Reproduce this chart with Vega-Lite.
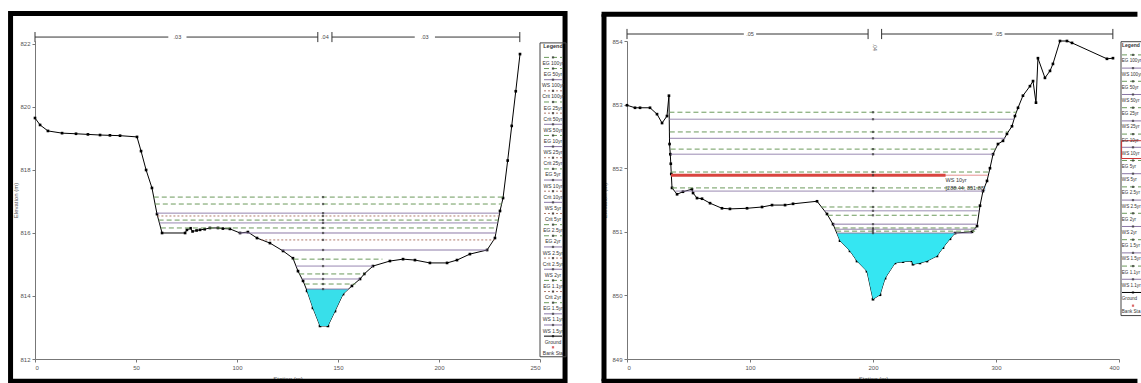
{
"$schema":"https://vega.github.io/schema/vega-lite/v6.json",
"background":"white",
"padding":{"left":8,"top":10,"right":0,"bottom":0},
"config":{"font":"Liberation Sans","view":{"stroke":null},
"axis":{"grid":false,"labelFontSize":6,"titleFontSize":6,"labelColor":"#555","titleColor":"#555","domainColor":"#777","tickColor":"#777","tickSize":3,"titleFontWeight":"normal","labelPadding":2}},
"datasets":{
"lg":[{"s":0,"e":819.65},{"s":2.5,"e":819.43},{"s":6.4,"e":819.24},{"s":13.4,"e":819.17},{"s":20.3,"e":819.15},{"s":26.2,"e":819.13},{"s":32.2,"e":819.11},{"s":37.1,"e":819.1},{"s":42.1,"e":819.09},{"s":50.5,"e":819.05},{"s":52.5,"e":818.6},{"s":55,"e":818.0},{"s":57.9,"e":817.43},{"s":60.4,"e":816.6},{"s":62.9,"e":816.0},{"s":74.3,"e":816.0},{"s":75.2,"e":816.1},{"s":77,"e":816.15},{"s":78,"e":816.05},{"s":80,"e":816.08},{"s":81.7,"e":816.1},{"s":84,"e":816.12},{"s":86.6,"e":816.16},{"s":90.6,"e":816.16},{"s":93,"e":816.14},{"s":96.5,"e":816.13},{"s":101.5,"e":816.0},{"s":105.4,"e":816.03},{"s":109.9,"e":815.84},{"s":116.3,"e":815.68},{"s":122.8,"e":815.43},{"s":127.7,"e":815.2},{"s":130.2,"e":814.79},{"s":132.7,"e":814.48},{"s":134.7,"e":814.16},{"s":137.6,"e":813.62},{"s":141.1,"e":813.05},{"s":145.0,"e":813.05},{"s":148.5,"e":813.52},{"s":152.5,"e":814.06},{"s":156.9,"e":814.32},{"s":160.9,"e":814.54},{"s":163,"e":814.7},{"s":167.3,"e":814.95},{"s":175.7,"e":815.11},{"s":182.2,"e":815.17},{"s":188.1,"e":815.14},{"s":195.5,"e":815.05},{"s":204.0,"e":815.05},{"s":208.9,"e":815.14},{"s":215.3,"e":815.33},{"s":223.8,"e":815.46},{"s":227.7,"e":815.84},{"s":230.2,"e":816.7},{"s":231.7,"e":817.11},{"s":234,"e":818.3},{"s":236,"e":819.4},{"s":238,"e":820.5},{"s":240.1,"e":821.68}],
"lw":[{"series":"EG 100yr","type":"EG","e":817.14,"s1":58.8,"s2":231.75},{"series":"EG 50yr","type":"EG","e":816.92,"s1":59.3,"s2":231.2},{"series":"WS 100yr","type":"WS","e":816.63,"s1":60.3,"s2":230.0},{"series":"Crit 100yr","type":"Crit","e":816.54,"s1":60.6,"s2":229.7},{"series":"EG 25yr","type":"EG","e":816.41,"s1":61.2,"s2":229.4},{"series":"WS 50yr","type":"WS","e":816.32,"s1":61.6,"s2":229.1},{"series":"EG 10yr","type":"EG","e":816.16,"s1":62.3,"s2":228.6},{"series":"WS 25yr","type":"WS","e":816.0,"s1":101,"s2":228.1},{"series":"Crit 25yr","type":"Crit","e":815.78,"s1":112,"s2":227.5},{"series":"WS 10yr","type":"WS","e":815.46,"s1":122.3,"s2":224},{"series":"EG 5yr","type":"EG","e":815.17,"s1":128,"s2":172},{"series":"WS 5yr","type":"WS","e":814.95,"s1":129.4,"s2":167.3},{"series":"EG 2yr","type":"EG","e":814.7,"s1":130.8,"s2":163},{"series":"WS 2yr","type":"WS","e":814.54,"s1":132.3,"s2":160.9},{"series":"EG 1.1yr","type":"EG","e":814.38,"s1":133.5,"s2":158.7},{"series":"WS 1.1yr","type":"WS","e":814.22,"s1":134.6,"s2":155.2}],
"lf":[{"s":134.6,"g":814.22,"w":814.22},{"s":134.7,"g":814.16,"w":814.22},{"s":137.6,"g":813.62,"w":814.22},{"s":141.1,"g":813.05,"w":814.22},{"s":145.0,"g":813.05,"w":814.22},{"s":148.5,"g":813.52,"w":814.22},{"s":152.5,"g":814.06,"w":814.22},{"s":155.2,"g":814.22,"w":814.22}],
"lreach":[{"s1":0,"s2":66},{"s1":75,"s2":140},{"s1":147,"s2":188},{"s1":198,"s2":240}],
"lticks":[{"s":0},{"s":140},{"s":147},{"s":240}],
"llab":[{"s":70.5,"t":".03"},{"s":143.5,"t":".04"},{"s":193,"t":".03"}],
"rg":[{"s":0,"e":852.99},{"s":6.5,"e":852.95},{"s":10.6,"e":852.95},{"s":18.7,"e":852.95},{"s":24.4,"e":852.85},{"s":28.5,"e":852.71},{"s":32.5,"e":852.82},{"s":34.1,"e":853.14},{"s":34.6,"e":852.38},{"s":35.2,"e":852.22},{"s":35.6,"e":852.07},{"s":36.0,"e":851.91},{"s":36.6,"e":851.69},{"s":40.7,"e":851.59},{"s":45.5,"e":851.63},{"s":52.8,"e":851.67},{"s":53.7,"e":851.61},{"s":56.9,"e":851.53},{"s":61.0,"e":851.52},{"s":67.5,"e":851.45},{"s":77.2,"e":851.37},{"s":83.7,"e":851.36},{"s":97.6,"e":851.37},{"s":109.8,"e":851.39},{"s":117.9,"e":851.42},{"s":128.5,"e":851.42},{"s":135.0,"e":851.44},{"s":154.5,"e":851.48},{"s":162.6,"e":851.28},{"s":167.5,"e":851.12},{"s":173.2,"e":850.86},{"s":181.3,"e":850.7},{"s":187.0,"e":850.54},{"s":195.1,"e":850.38},{"s":200.0,"e":849.94},{"s":205.7,"e":850.01},{"s":209.8,"e":850.27},{"s":217.9,"e":850.51},{"s":224.4,"e":850.53},{"s":231.7,"e":850.54},{"s":232.5,"e":850.49},{"s":238.2,"e":850.51},{"s":243.9,"e":850.54},{"s":252.0,"e":850.62},{"s":256.9,"e":850.75},{"s":262.6,"e":850.89},{"s":266.7,"e":850.98},{"s":280.5,"e":851.0},{"s":284.6,"e":851.09},{"s":287.0,"e":851.41},{"s":289.4,"e":851.64},{"s":292.7,"e":851.8},{"s":295.1,"e":852.0},{"s":297.6,"e":852.22},{"s":301.6,"e":852.38},{"s":305.7,"e":852.43},{"s":308.9,"e":852.54},{"s":313.0,"e":852.66},{"s":315.4,"e":852.82},{"s":317.9,"e":852.95},{"s":321.9,"e":853.14},{"s":327.6,"e":853.29},{"s":330.1,"e":853.37},{"s":332.5,"e":853.03},{"s":334.1,"e":853.73},{"s":339.8,"e":853.42},{"s":343.9,"e":853.53},{"s":346.3,"e":853.64},{"s":352.0,"e":854.0},{"s":357.7,"e":854.0},{"s":361.8,"e":853.97},{"s":390.2,"e":853.72},{"s":395.1,"e":853.73}],
"rw":[{"series":"EG 100yr","type":"EG","e":852.88,"s1":34.5,"s2":316.5},{"series":"WS 100yr","type":"WS","e":852.77,"s1":34.5,"s2":314.6},{"series":"EG 50yr","type":"EG","e":852.57,"s1":34.8,"s2":309.7},{"series":"WS 50yr","type":"WS","e":852.47,"s1":34.8,"s2":307.6},{"series":"EG 25yr","type":"EG","e":852.3,"s1":35.5,"s2":299.6},{"series":"WS 25yr","type":"WS","e":852.22,"s1":35.5,"s2":297.6},{"series":"EG 10yr","type":"EG","e":851.94,"s1":35.8,"s2":294.4},{"series":"WS 10yr","type":"WS","e":851.89,"s1":35.8,"s2":293.5},{"series":"EG 5yr","type":"EG","e":851.69,"s1":36.6,"s2":290.4},{"series":"WS 5yr","type":"WS","e":851.64,"s1":39.5,"s2":289.4},{"series":"EG 2.5yr","type":"EG","e":851.39,"s1":158.1,"s2":286.9},{"series":"WS 2.5yr","type":"WS","e":851.33,"s1":160.6,"s2":286.4},{"series":"EG 2yr","type":"EG","e":851.26,"s1":163.2,"s2":285.9},{"series":"WS 2yr","type":"WS","e":851.12,"s1":167.5,"s2":284.8},{"series":"EG 1.5yr","type":"EG","e":851.06,"s1":168.8,"s2":284.4},{"series":"WS 1.5yr","type":"WS","e":851.04,"s1":169.3,"s2":284.3},{"series":"EG 1.1yr","type":"EG","e":851.01,"s1":170,"s2":283},{"series":"WS 1.1yr","type":"WS","e":850.98,"s1":170.6,"s2":280.5}],
"rf":[{"s":170.6,"g":850.98,"w":850.98},{"s":173.2,"g":850.86,"w":850.98},{"s":181.3,"g":850.7,"w":850.98},{"s":187.0,"g":850.54,"w":850.98},{"s":195.1,"g":850.38,"w":850.98},{"s":200.0,"g":849.94,"w":850.98},{"s":205.7,"g":850.01,"w":850.98},{"s":209.8,"g":850.27,"w":850.98},{"s":217.9,"g":850.51,"w":850.98},{"s":224.4,"g":850.53,"w":850.98},{"s":231.7,"g":850.54,"w":850.98},{"s":232.5,"g":850.49,"w":850.98},{"s":238.2,"g":850.51,"w":850.98},{"s":243.9,"g":850.54,"w":850.98},{"s":252.0,"g":850.62,"w":850.98},{"s":256.9,"g":850.75,"w":850.98},{"s":262.6,"g":850.89,"w":850.98},{"s":266.7,"g":850.98,"w":850.98}],
"rreach":[{"s1":0,"s2":95},{"s1":105,"s2":196},{"s1":207,"s2":297},{"s1":307,"s2":395}],
"rticks":[{"s":0},{"s":196},{"s":207},{"s":395}],
"rlab":[{"s":100,"t":".05"},{"s":302,"t":".05"}],
"ll":[{"k":1,"label":"EG 100yr","type":"EG"},{"k":2,"label":"EG 50yr","type":"EG"},{"k":3,"label":"WS 100yr","type":"WS"},{"k":4,"label":"Crit 100yr","type":"Crit"},{"k":5,"label":"EG 25yr","type":"EG"},{"k":6,"label":"Crit 50yr","type":"Crit"},{"k":7,"label":"WS 50yr","type":"WS"},{"k":8,"label":"EG 10yr","type":"EG"},{"k":9,"label":"WS 25yr","type":"WS"},{"k":10,"label":"Crit 25yr","type":"Crit"},{"k":11,"label":"EG 5yr","type":"EG"},{"k":12,"label":"WS 10yr","type":"WS"},{"k":13,"label":"Crit 10yr","type":"Crit"},{"k":14,"label":"WS 5yr","type":"WS"},{"k":15,"label":"Crit 5yr","type":"Crit"},{"k":16,"label":"EG 2.5yr","type":"EG"},{"k":17,"label":"EG 2yr","type":"EG"},{"k":18,"label":"WS 2.5yr","type":"WS"},{"k":19,"label":"Crit 2.5yr","type":"Crit"},{"k":20,"label":"WS 2yr","type":"WS"},{"k":21,"label":"EG 1.1yr","type":"EG"},{"k":22,"label":"Crit 2yr","type":"Crit"},{"k":23,"label":"EG 1.5yr","type":"EG"},{"k":24,"label":"WS 1.1yr","type":"WS"},{"k":25,"label":"WS 1.5yr","type":"WS"},{"k":26,"label":"Ground","type":"Ground"},{"k":27,"label":"Bank Sta","type":"Bank"}],
"rl":[{"k":1,"label":"EG 100yr","type":"EG"},{"k":2,"label":"WS 100yr","type":"WS"},{"k":3,"label":"EG 50yr","type":"EG"},{"k":4,"label":"WS 50yr","type":"WS"},{"k":5,"label":"EG 25yr","type":"EG"},{"k":6,"label":"WS 25yr","type":"WS"},{"k":7,"label":"EG 10yr","type":"EG"},{"k":8,"label":"WS 10yr","type":"WS"},{"k":9,"label":"EG 5yr","type":"EG"},{"k":10,"label":"WS 5yr","type":"WS"},{"k":11,"label":"EG 2.5yr","type":"EG"},{"k":12,"label":"WS 2.5yr","type":"WS"},{"k":13,"label":"EG 2yr","type":"EG"},{"k":14,"label":"WS 2yr","type":"WS"},{"k":15,"label":"EG 1.5yr","type":"EG"},{"k":16,"label":"WS 1.5yr","type":"WS"},{"k":17,"label":"EG 1.1yr","type":"EG"},{"k":18,"label":"WS 1.1yr","type":"WS"},{"k":19,"label":"Ground","type":"Ground"},{"k":20,"label":"Bank Sta","type":"Bank"}]
},
"spacing":0,
"bounds":"flush",
"hconcat":[
{"width":505,"height":318,
"layer":[
{"data":{"name":"lg"},"mark":{"type":"line","color":"black","strokeWidth":1,"point":{"shape":"square","size":7,"filled":true,"color":"black"}},
"encoding":{"x":{"field":"s","type":"quantitative","scale":{"domain":[0,250],"nice":false,"zero":false},"axis":{"values":[0,50,100,150,200,250],"title":"Station (m)","titlePadding":5}},
"y":{"field":"e","type":"quantitative","scale":{"domain":[812,822.095],"nice":false,"zero":false},"axis":{"values":[812,813,814,815,816,817,818,819,820,821,822],"labelExpr":"datum.value % 2 == 0 ? format(datum.value, 'd') : ''","title":"Elevation (m)","titlePadding":1}}}},
{"data":{"values":[{}]},"mark":{"type":"rect","filled":false,"stroke":"black","strokeWidth":5},
"encoding":{"x":{"datum":-12.1,"type":"quantitative"},"x2":{"datum":262.4},"y":{"datum":822.97,"type":"quantitative"},"y2":{"datum":811.29}}},
{"data":{"name":"lf"},"mark":{"type":"area","color":"#38dfea","opacity":1},
"encoding":{"x":{"field":"s","type":"quantitative","title":"Station (m)"},"y":{"field":"g","type":"quantitative","title":"Elevation (m)"},"y2":{"field":"w"}}},
{"data":{"name":"lw"},"mark":{"type":"rule","strokeWidth":1},
"encoding":{"x":{"field":"s1","type":"quantitative","title":"Station (m)"},"x2":{"field":"s2"},"y":{"field":"e","type":"quantitative","title":"Elevation (m)"},
"color":{"field":"type","type":"nominal","scale":{"domain":["EG","WS","Crit","Ground","Bank"],"range":["#6c9a5c","#8a78a6","#b07a6a","#000000","#cc2a2a"]},"legend":null},
"strokeDash":{"field":"type","type":"nominal","scale":{"domain":["EG","WS","Crit","Ground","Bank"],"range":[[5,3],[1,0],[2,2],[1,0],[1,0]]},"legend":null}}},
{"data":{"name":"lw"},"mark":{"type":"point","shape":"square","filled":true,"size":5,"color":"#333"},
"encoding":{"x":{"datum":142.6,"type":"quantitative"},"y":{"field":"e","type":"quantitative","title":"Elevation (m)"}}},
{"data":{"name":"lreach"},"mark":{"type":"rule","color":"#333","strokeWidth":1},
"encoding":{"x":{"field":"s1","type":"quantitative","title":"Station (m)"},"x2":{"field":"s2"},"y":{"datum":822.22,"type":"quantitative"}}},
{"data":{"name":"lticks"},"mark":{"type":"rule","color":"#333","strokeWidth":1},
"encoding":{"x":{"field":"s","type":"quantitative","title":"Station (m)"},"y":{"datum":822.06,"type":"quantitative"},"y2":{"datum":822.38}}},
{"data":{"name":"llab"},"mark":{"type":"text","fontSize":5.5,"color":"#444"},
"encoding":{"x":{"field":"s","type":"quantitative","title":"Station (m)"},"y":{"datum":822.22,"type":"quantitative"},"text":{"field":"t"}}}
]},
{"width":87,"height":318,
"layer":[
{"data":{"values":[{}]},"mark":{"type":"rect","filled":false,"stroke":"#444","strokeWidth":1},
"encoding":{"x":{"datum":0,"type":"quantitative","scale":{"domain":[0,87],"nice":false,"zero":false},"axis":null},"x2":{"datum":26},"y":{"datum":-0.3,"type":"quantitative","scale":{"domain":[-0.47,28.05],"nice":false,"zero":false,"reverse":true},"axis":null},"y2":{"datum":27.85}}},
{"data":{"values":[{}]},"mark":{"type":"text","fontSize":5.5,"color":"#333","fontWeight":"bold"},
"encoding":{"x":{"datum":13,"type":"quantitative","axis":null},"y":{"datum":0,"type":"quantitative","axis":null},"text":{"value":"Legend"}}},
{"data":{"name":"ll"},"transform":[{"filter":"datum.type != 'Bank'"}],"mark":{"type":"rule","strokeWidth":1},
"encoding":{"x":{"datum":4,"type":"quantitative","axis":null},"x2":{"datum":22},"y":{"field":"k","type":"quantitative","axis":null},
"color":{"field":"type","type":"nominal","scale":{"domain":["EG","WS","Crit","Ground","Bank"],"range":["#6c9a5c","#8a78a6","#b07a6a","#000000","#cc2a2a"]},"legend":null},
"strokeDash":{"field":"type","type":"nominal","scale":{"domain":["EG","WS","Crit","Ground","Bank"],"range":[[5,3],[1,0],[2,2],[1,0],[1,0]]},"legend":null}}},
{"data":{"name":"ll"},"mark":{"type":"point","shape":"square","filled":true,"size":5},
"encoding":{"x":{"datum":13,"type":"quantitative","axis":null},"y":{"field":"k","type":"quantitative","axis":null},
"fill":{"field":"type","type":"nominal","scale":{"domain":["EG","WS","Crit","Ground","Bank"],"range":["#333333","#333333","#333333","#000000","#cc2a2a"]},"legend":null}}},
{"data":{"name":"ll"},"mark":{"type":"text","fontSize":5,"color":"#333","dy":5.6},
"encoding":{"x":{"datum":13,"type":"quantitative","axis":null},"y":{"field":"k","type":"quantitative","axis":null},"text":{"field":"label"}}}
]},
{"width":492,"height":318,
"layer":[
{"data":{"name":"rg"},"mark":{"type":"line","color":"black","strokeWidth":1,"point":{"shape":"square","size":7,"filled":true,"color":"black"}},
"encoding":{"x":{"field":"s","type":"quantitative","scale":{"domain":[0,400],"nice":false,"zero":false},"axis":{"values":[0,100,200,300,400],"title":"Station (m)","titlePadding":5}},
"y":{"field":"e","type":"quantitative","scale":{"domain":[849,854],"nice":false,"zero":false},"axis":{"values":[849,849.5,850,850.5,851,851.5,852,852.5,853,853.5,854],"labelExpr":"datum.value % 1 == 0 ? format(datum.value, 'd') : ''","title":"Elevation (m)","titlePadding":4}}}},
{"data":{"values":[{}]},"mark":{"type":"rule","stroke":"black","strokeWidth":5},
"encoding":{"x":{"datum":-18.7,"type":"quantitative"},"y":{"datum":854.42,"type":"quantitative"},"y2":{"datum":848.65}}},
{"data":{"values":[{}]},"mark":{"type":"rule","stroke":"black","strokeWidth":5},
"encoding":{"x":{"datum":-20.7,"type":"quantitative"},"x2":{"datum":415},"y":{"datum":854.42,"type":"quantitative"}}},
{"data":{"values":[{}]},"mark":{"type":"rule","stroke":"black","strokeWidth":5},
"encoding":{"x":{"datum":-20.7,"type":"quantitative"},"x2":{"datum":415},"y":{"datum":848.65,"type":"quantitative"}}},
{"data":{"name":"rf"},"mark":{"type":"area","color":"#35e6f2","opacity":1},
"encoding":{"x":{"field":"s","type":"quantitative","title":"Station (m)"},"y":{"field":"g","type":"quantitative","title":"Elevation (m)"},"y2":{"field":"w"}}},
{"data":{"name":"rw"},"mark":{"type":"rule","strokeWidth":1},
"encoding":{"x":{"field":"s1","type":"quantitative","title":"Station (m)"},"x2":{"field":"s2"},"y":{"field":"e","type":"quantitative","title":"Elevation (m)"},
"color":{"condition":{"test":"datum.series === 'WS 10yr'","value":"#e58f8f"},"field":"type","type":"nominal","scale":{"domain":["EG","WS","Crit","Ground","Bank"],"range":["#5e8f50","#6f70ae","#b07a6a","#000000","#cc2a2a"]},"legend":null},
"strokeDash":{"field":"type","type":"nominal","scale":{"domain":["EG","WS","Crit","Ground","Bank"],"range":[[6,3],[1,0],[2,2],[1,0],[1,0]]},"legend":null}}},
{"data":{"values":[{}]},"mark":{"type":"rule","stroke":"#d9443f","strokeWidth":3},
"encoding":{"x":{"datum":35.8,"type":"quantitative"},"x2":{"datum":259},"y":{"datum":851.89,"type":"quantitative"}}},
{"data":{"name":"rw"},"mark":{"type":"point","shape":"square","filled":true,"size":5,"color":"#333"},
"encoding":{"x":{"datum":200,"type":"quantitative"},"y":{"field":"e","type":"quantitative","title":"Elevation (m)"}}},
{"data":{"name":"rreach"},"mark":{"type":"rule","color":"#333","strokeWidth":1},
"encoding":{"x":{"field":"s1","type":"quantitative","title":"Station (m)"},"x2":{"field":"s2"},"y":{"datum":854.11,"type":"quantitative"}}},
{"data":{"name":"rticks"},"mark":{"type":"rule","color":"#333","strokeWidth":1},
"encoding":{"x":{"field":"s","type":"quantitative","title":"Station (m)"},"y":{"datum":854.03,"type":"quantitative"},"y2":{"datum":854.19}}},
{"data":{"name":"rlab"},"mark":{"type":"text","fontSize":5.5,"color":"#444"},
"encoding":{"x":{"field":"s","type":"quantitative","title":"Station (m)"},"y":{"datum":854.11,"type":"quantitative"},"text":{"field":"t"}}},
{"data":{"values":[{}]},"mark":{"type":"text","fontSize":5,"color":"#555","angle":90},
"encoding":{"x":{"datum":201.5,"type":"quantitative"},"y":{"datum":853.9,"type":"quantitative"},"text":{"value":".04"}}},
{"data":{"values":[{}]},"mark":{"type":"text","fontSize":5.5,"color":"#333","align":"left"},
"encoding":{"x":{"datum":259,"type":"quantitative"},"y":{"datum":851.81,"type":"quantitative"},"text":{"value":"WS 10yr"}}},
{"data":{"values":[{}]},"mark":{"type":"text","fontSize":5.5,"color":"#333","align":"left"},
"encoding":{"x":{"datum":259,"type":"quantitative"},"y":{"datum":851.69,"type":"quantitative"},"text":{"value":"[288.44, 851.88]"}}}
]},
{"width":22,"height":318,
"layer":[
{"data":{"values":[{}]},"mark":{"type":"rect","filled":false,"stroke":"#444","strokeWidth":1,"clip":true},
"encoding":{"x":{"datum":2,"type":"quantitative","scale":{"domain":[0,22],"nice":false,"zero":false},"axis":null},"x2":{"datum":40},"y":{"datum":0,"type":"quantitative","scale":{"domain":[-0.053,24.04],"nice":false,"zero":false,"reverse":true},"axis":null},"y2":{"datum":20.75}}},
{"data":{"values":[{}]},"mark":{"type":"rect","filled":false,"stroke":"#c33","strokeWidth":1,"clip":true},
"encoding":{"x":{"datum":2.6,"type":"quantitative","axis":null},"x2":{"datum":40},"y":{"datum":7.5,"type":"quantitative","axis":null},"y2":{"datum":8.85}}},
{"data":{"values":[{}]},"mark":{"type":"text","fontSize":5,"color":"#333","fontWeight":"bold","align":"left","clip":true},
"encoding":{"x":{"datum":3,"type":"quantitative","axis":null},"y":{"datum":0.25,"type":"quantitative","axis":null},"text":{"value":"Legend"}}},
{"data":{"name":"rl"},"transform":[{"filter":"datum.type != 'Bank'"}],"mark":{"type":"rule","strokeWidth":1,"clip":true},
"encoding":{"x":{"datum":3,"type":"quantitative","axis":null},"x2":{"datum":22},"y":{"field":"k","type":"quantitative","axis":null},
"color":{"field":"type","type":"nominal","scale":{"domain":["EG","WS","Crit","Ground","Bank"],"range":["#5e8f50","#6f70ae","#b07a6a","#000000","#cc2a2a"]},"legend":null},
"strokeDash":{"field":"type","type":"nominal","scale":{"domain":["EG","WS","Crit","Ground","Bank"],"range":[[6,3],[1,0],[2,2],[1,0],[1,0]]},"legend":null}}},
{"data":{"name":"rl"},"mark":{"type":"point","shape":"square","filled":true,"size":5,"clip":true},
"encoding":{"x":{"datum":14,"type":"quantitative","axis":null},"y":{"field":"k","type":"quantitative","axis":null},
"fill":{"field":"type","type":"nominal","scale":{"domain":["EG","WS","Crit","Ground","Bank"],"range":["#333333","#333333","#333333","#000000","#cc2a2a"]},"legend":null}}},
{"data":{"name":"rl"},"mark":{"type":"text","fontSize":4.6,"color":"#333","dy":6.6,"align":"left","clip":true},
"encoding":{"x":{"datum":2.8,"type":"quantitative","axis":null},"y":{"field":"k","type":"quantitative","axis":null},"text":{"field":"label"}}}
]}
]
}
